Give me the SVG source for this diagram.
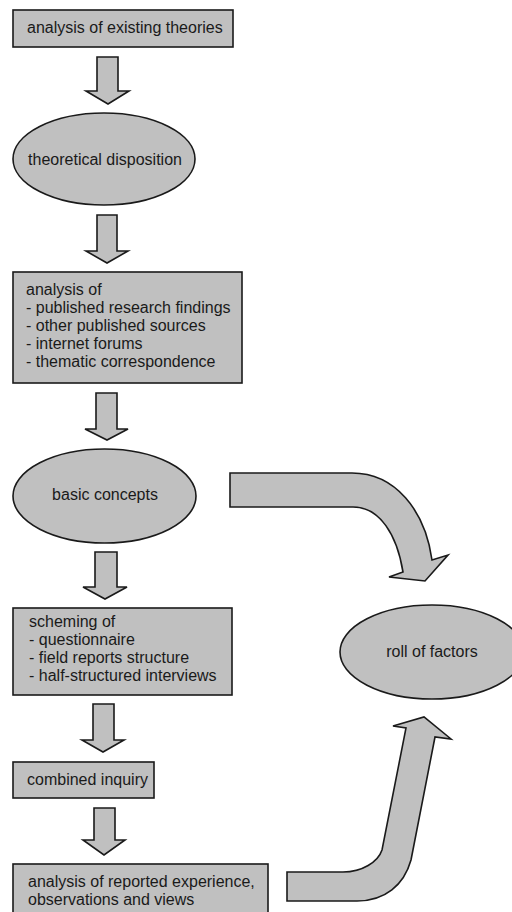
<svg xmlns="http://www.w3.org/2000/svg" width="512" height="912" viewBox="0 0 512 912">
<style>
.shape{fill:#c0c0c0;stroke:#1a1a1a;stroke-width:1.6;stroke-linejoin:miter}
.t{font-family:"Liberation Sans",Arial,sans-serif;font-size:16px;fill:#1a1a1a}
.c{text-anchor:middle}
</style>
<rect width="512" height="912" fill="#ffffff"/>
<g id="connectors">
<path class="shape" d="M97,57 H118 V91 H129 L108,104 L86,91 H97 Z"/>
<path class="shape" d="M97,215 H117 V251 H128 L107,263 L86,251 H97 Z"/>
<path class="shape" d="M96,393 H117 V429 H128 L107,440 L85,429 H96 Z"/>
<path class="shape" d="M95,552 H117 V587 H127 L105,599 L83,587 H95 Z"/>
<path class="shape" d="M93,704 H114 V740 H124 L103,752 L82,740 H93 Z"/>
<path class="shape" d="M94,808 H115 V840 H125 L104,855 L83,840 H94 Z"/>
<path class="shape" d="M230,473 H352 C395,473 425,510 432,560 L448,555 L425,581 L389,577 L403,572 C397,535 380,507 353,507 H230 Z"/>
<path class="shape" d="M287,872 H343 C362,872 378,862 382,850 L406,728 L393,726 L424,717 L451,739 L435,737 L411,860 C404,885 385,901 357,901 H287 Z"/>
</g>
<g id="n1">
<rect class="shape" x="13" y="10" width="220" height="37"/>
<text class="t" x="27" y="33">analysis of existing theories</text>
</g>
<g id="n2">
<ellipse class="shape" cx="104" cy="159" rx="91" ry="46"/>
<text class="t c" x="105" y="165">theoretical disposition</text>
</g>
<g id="n3">
<rect class="shape" x="13" y="272" width="229" height="111"/>
<text class="t" x="26" y="295">analysis of</text>
<text class="t" x="26" y="313">- published research findings</text>
<text class="t" x="26" y="331">- other published sources</text>
<text class="t" x="26" y="349">- internet forums</text>
<text class="t" x="26" y="367">- thematic correspondence</text>
</g>
<g id="n4">
<ellipse class="shape" cx="104.5" cy="496" rx="91.5" ry="47"/>
<text class="t c" x="105" y="500">basic concepts</text>
</g>
<g id="n5">
<rect class="shape" x="13" y="608" width="219" height="87"/>
<text class="t" x="29" y="627">scheming of</text>
<text class="t" x="29" y="645">- questionnaire</text>
<text class="t" x="29" y="663">- field reports structure</text>
<text class="t" x="29" y="681">- half-structured interviews</text>
</g>
<g id="n6">
<rect class="shape" x="13" y="762" width="141" height="36"/>
<text class="t" x="27" y="785">combined inquiry</text>
</g>
<g id="n7">
<rect class="shape" x="13" y="864" width="255" height="60"/>
<text class="t" x="28" y="887">analysis of reported experience,</text>
<text class="t" x="28" y="905">observations and views</text>
</g>
<g id="n8">
<ellipse class="shape" cx="432" cy="652" rx="92" ry="47"/>
<text class="t c" x="432" y="657">roll of factors</text>
</g>
</svg>
